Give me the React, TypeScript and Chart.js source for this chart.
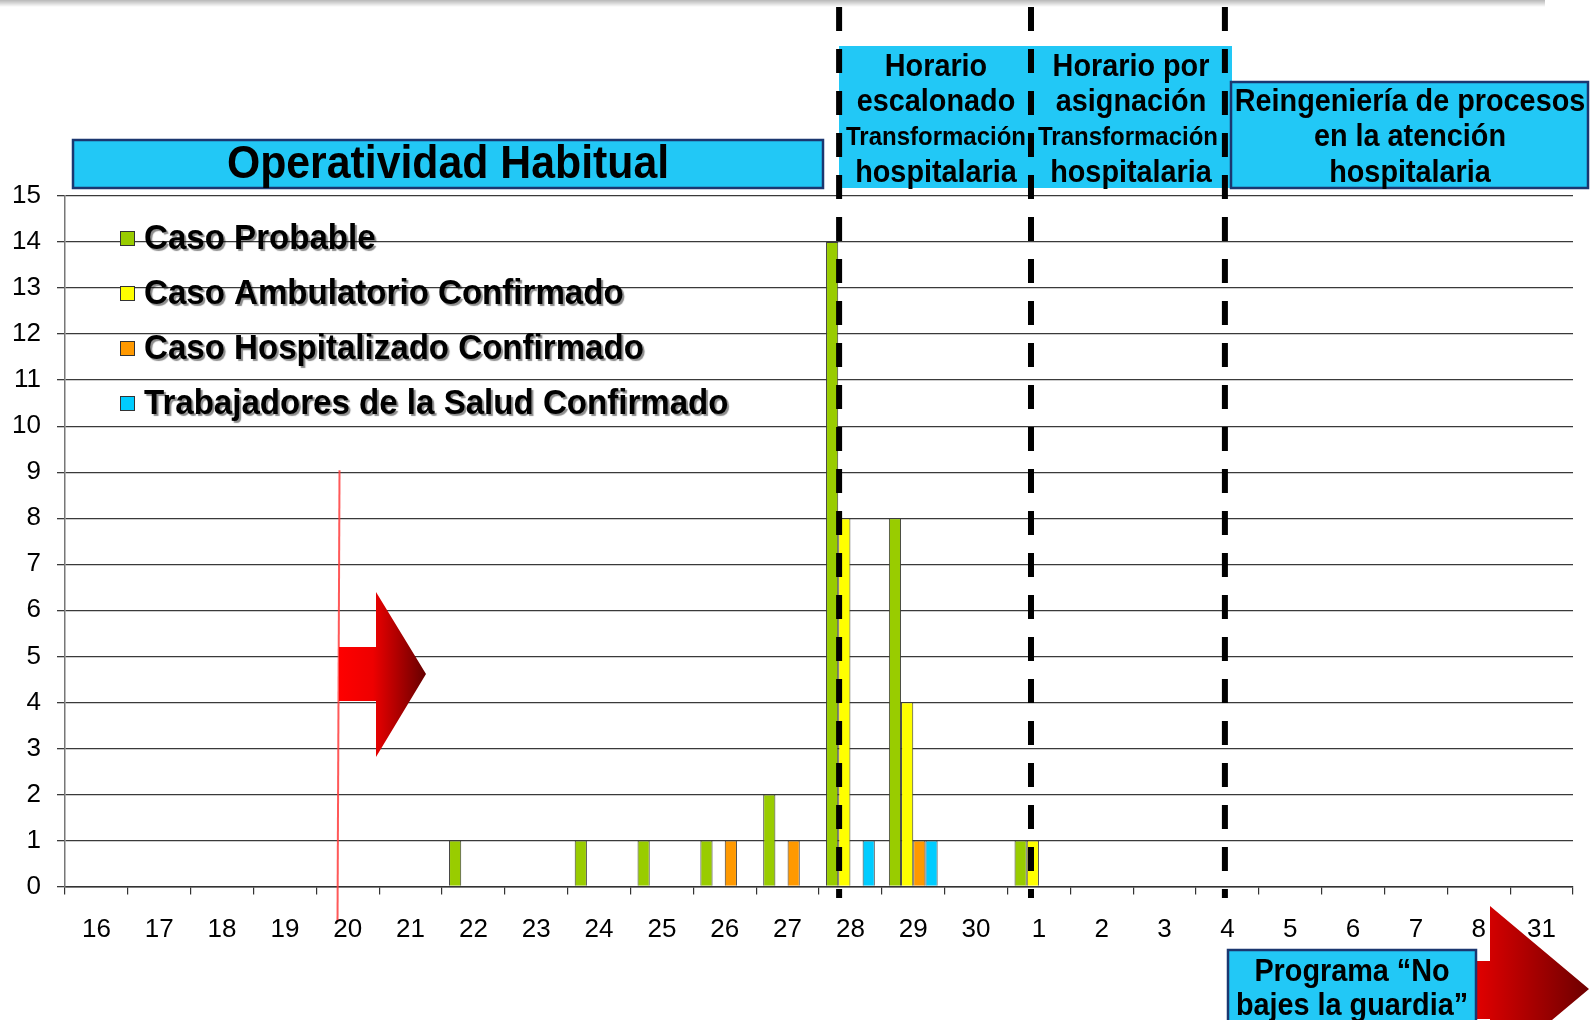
import { useEffect, useRef } from 'react';
import { Chart, registerables } from 'chart.js';

Chart.register(...registerables);

const days = ['16', '17', '18', '19', '20', '21', '22', '23', '24', '25', '26', '27', '28', '29', '30', '1', '2', '3', '4', '5', '6', '7', '8', '31'];
const casoProbable = [0, 0, 0, 0, 0, 0, 1, 0, 1, 1, 1, 2, 14, 8, 0, 1, 0, 0, 0, 0, 0, 0, 0, 0];
const casoAmbulatorio = [0, 0, 0, 0, 0, 0, 0, 0, 0, 0, 0, 0, 8, 4, 0, 1, 0, 0, 0, 0, 0, 0, 0, 0];
const casoHospitalizado = [0, 0, 0, 0, 0, 0, 0, 0, 0, 0, 1, 1, 0, 1, 0, 0, 0, 0, 0, 0, 0, 0, 0, 0];
const trabajadoresSalud = [0, 0, 0, 0, 0, 0, 0, 0, 0, 0, 0, 0, 1, 1, 0, 0, 0, 0, 0, 0, 0, 0, 0, 0];
const seriesNames = ['Caso Probable', 'Caso Ambulatorio Confirmado', 'Caso Hospitalizado Confirmado', 'Trabajadores de la Salud Confirmado'];
const seriesColors = ['#99CC00', '#FFFF00', '#FF9900', '#00CCFF'];
const yTicks = [0, 15];

const FONT = '"Liberation Sans", Arial, sans-serif';
const CYAN = '#22C8F6';
const NAVY = '#1B3770';

const toBars = (arr: number[]) => arr.map((v) => (v === 0 ? null : v));

function arrowPath(ctx: CanvasRenderingContext2D, x0: number, sTop: number, sBot: number, hx: number, hTop: number, hBot: number, tipX: number, tipY: number) {
  ctx.beginPath();
  ctx.moveTo(x0, sTop);
  ctx.lineTo(hx, sTop);
  ctx.lineTo(hx, hTop);
  ctx.lineTo(tipX, tipY);
  ctx.lineTo(hx, hBot);
  ctx.lineTo(hx, sBot);
  ctx.lineTo(x0, sBot);
  ctx.closePath();
}

function txt(ctx: CanvasRenderingContext2D, s: string, x: number, y: number, size: number, align: CanvasTextAlign = 'center', sx = 1) {
  ctx.save();
  ctx.translate(x, y);
  ctx.scale(sx, 1);
  ctx.font = `bold ${size}px ${FONT}`;
  ctx.textAlign = align;
  ctx.textBaseline = 'middle';
  ctx.fillStyle = '#000';
  ctx.fillText(s, 0, 0);
  ctx.restore();
}

const deco = {
  id: 'deco',
  beforeDraw(chart: any) {
    const ctx: CanvasRenderingContext2D = chart.ctx;
    ctx.save();
    const g = ctx.createLinearGradient(0, 0, 0, 7);
    g.addColorStop(0, 'rgba(0,0,0,0.28)');
    g.addColorStop(1, 'rgba(0,0,0,0)');
    ctx.fillStyle = g;
    ctx.fillRect(0, 0, 1545, 7);
    const g2 = ctx.createLinearGradient(1477, 0, 1588, 0);
    g2.addColorStop(0, '#E00000');
    g2.addColorStop(1, '#6E0000');
    ctx.fillStyle = g2;
    arrowPath(ctx, 1460, 961, 1019, 1490, 906, 1072, 1589, 989);
    ctx.fill();
    ctx.restore();
  },
  afterDraw(chart: any) {
    const ctx: CanvasRenderingContext2D = chart.ctx;
    const xs = chart.scales.x;
    const ys = chart.scales.y;
    const cw = xs.getPixelForValue(1) - xs.getPixelForValue(0);
    const xAt = (idx: number, frac: number) => xs.getPixelForValue(idx) + frac * cw;
    ctx.save();

    const rx = xAt(4, -0.147);
    ctx.strokeStyle = 'rgba(255,60,60,0.85)';
    ctx.lineWidth = 2;
    ctx.beginPath();
    ctx.moveTo(rx + 1, ys.getPixelForValue(9) - 2);
    ctx.lineTo(rx - 1, 920);
    ctx.stroke();

    const g1 = ctx.createLinearGradient(338, 0, 425, 0);
    g1.addColorStop(0, '#FF0000');
    g1.addColorStop(0.4, '#EE0000');
    g1.addColorStop(1, '#680000');
    ctx.fillStyle = g1;
    arrowPath(ctx, 339, 647, 701, 376, 592, 757, 426, 674);
    ctx.fill();

    ctx.fillStyle = CYAN;
    ctx.fillRect(73, 140, 750, 48);
    ctx.strokeStyle = NAVY;
    ctx.lineWidth = 2.5;
    ctx.strokeRect(73, 140, 750, 48);
    txt(ctx, 'Operatividad Habitual', 448, 165, 46, 'center', 0.93);

    ctx.fillStyle = CYAN;
    ctx.fillRect(839, 46, 393, 142);
    txt(ctx, 'Horario', 936, 67, 32, 'center', 0.9);
    txt(ctx, 'escalonado', 936, 102, 32, 'center', 0.9);
    txt(ctx, 'Transformación', 936, 138, 25, 'center', 0.96);
    txt(ctx, 'hospitalaria', 936, 173, 32, 'center', 0.9);
    ctx.save();
    ctx.beginPath();
    ctx.rect(1031, 40, 191, 160);
    ctx.clip();
    txt(ctx, 'Horario por', 1131, 67, 32, 'center', 0.9);
    txt(ctx, 'asignación', 1131, 102, 32, 'center', 0.9);
    txt(ctx, 'Transformación', 1128, 138, 25, 'center', 0.96);
    txt(ctx, 'hospitalaria', 1131, 173, 32, 'center', 0.9);
    ctx.restore();

    ctx.fillStyle = CYAN;
    ctx.fillRect(1231, 82, 357, 106);
    ctx.strokeStyle = NAVY;
    ctx.lineWidth = 2.5;
    ctx.strokeRect(1231, 82, 357, 106);
    txt(ctx, 'Reingeniería de procesos', 1410, 102, 32, 'center', 0.9);
    txt(ctx, 'en la atención', 1410, 137, 32, 'center', 0.9);
    txt(ctx, 'hospitalaria', 1410, 173, 32, 'center', 0.9);

    ctx.fillStyle = CYAN;
    ctx.fillRect(1228, 950, 248, 80);
    ctx.strokeStyle = NAVY;
    ctx.lineWidth = 2.5;
    ctx.strokeRect(1228, 950, 248, 80);
    txt(ctx, 'Programa \u201CNo', 1352, 972, 32, 'center', 0.9);
    txt(ctx, 'bajes la guardia\u201D', 1352, 1006, 32, 'center', 0.9);

    ctx.strokeStyle = '#000';
    ctx.lineWidth = 6;
    ctx.setLineDash([24, 18]);
    [xAt(12, -0.18), xAt(15, -0.126), xAt(18, -0.04)].forEach((lx) => {
      ctx.beginPath();
      ctx.moveTo(lx, 7);
      ctx.lineTo(lx, 898);
      ctx.stroke();
    });
    ctx.setLineDash([]);

    const rows = [239, 294, 349, 404];
    seriesNames.forEach((name, i) => {
      ctx.fillStyle = seriesColors[i];
      ctx.fillRect(120, rows[i] - 8, 15, 15);
      ctx.strokeStyle = '#333';
      ctx.lineWidth = 1;
      ctx.strokeRect(120.5, rows[i] - 7.5, 14, 14);
      ctx.save();
      ctx.shadowColor = 'rgba(0,0,0,0.45)';
      ctx.shadowOffsetX = 2;
      ctx.shadowOffsetY = 2;
      ctx.shadowBlur = 1;
      txt(ctx, name, 144, rows[i], 35, 'left', 0.945);
      ctx.restore();
    });

    ctx.restore();
  },
};

export default function App() {
  const ref = useRef<HTMLCanvasElement | null>(null);
  useEffect(() => {
    document.body.style.margin = '0';
    const canvas = ref.current!;
    const series = [casoProbable, casoAmbulatorio, casoHospitalizado, trabajadoresSalud];
    const chart = new Chart(canvas, {
      type: 'bar',
      data: {
        labels: days,
        datasets: series.map((s, i) => ({
          label: seriesNames[i],
          data: toBars(s),
          backgroundColor: seriesColors[i],
          borderColor: '#3C3C3C',
          borderWidth: 1,
          categoryPercentage: 0.776,
          barPercentage: 1.0,
        })),
      },
      options: {
        animation: false,
        responsive: false,
        devicePixelRatio: 1,
        layout: { padding: { top: 196, right: 21, left: 0, bottom: 0 } },
        plugins: { legend: { display: false }, tooltip: { enabled: false } },
        scales: {
          x: {
            type: 'category',
            offset: true,
            grid: { offset: true, drawOnChartArea: false, drawTicks: true, tickLength: 8, color: '#333', lineWidth: 1.2 },
            border: { display: true, color: '#333', width: 1.5 },
            ticks: { color: '#000', font: { size: 26, family: FONT }, padding: 20, maxRotation: 0, autoSkip: false },
            afterFit: (scale: any) => { scale.height = 133.5; },
          },
          y: {
            min: yTicks[0],
            max: yTicks[1],
            ticks: { stepSize: 1, color: '#000', font: { size: 26, family: FONT }, padding: 16 },
            grid: { color: '#3A3A3A', lineWidth: 1.3, tickLength: 8 },
            border: { display: true, color: '#777', width: 1.5 },
            afterFit: (scale: any) => { scale.width = 65; },
          },
        },
      },
      plugins: [deco],
    });
    return () => chart.destroy();
  }, []);
  return (
    <div style={{ position: 'absolute', left: 0, top: 0, width: 1594, height: 1020, background: '#fff' }}>
      <canvas ref={ref} width={1594} height={1020} style={{ display: 'block' }} />
    </div>
  );
}
